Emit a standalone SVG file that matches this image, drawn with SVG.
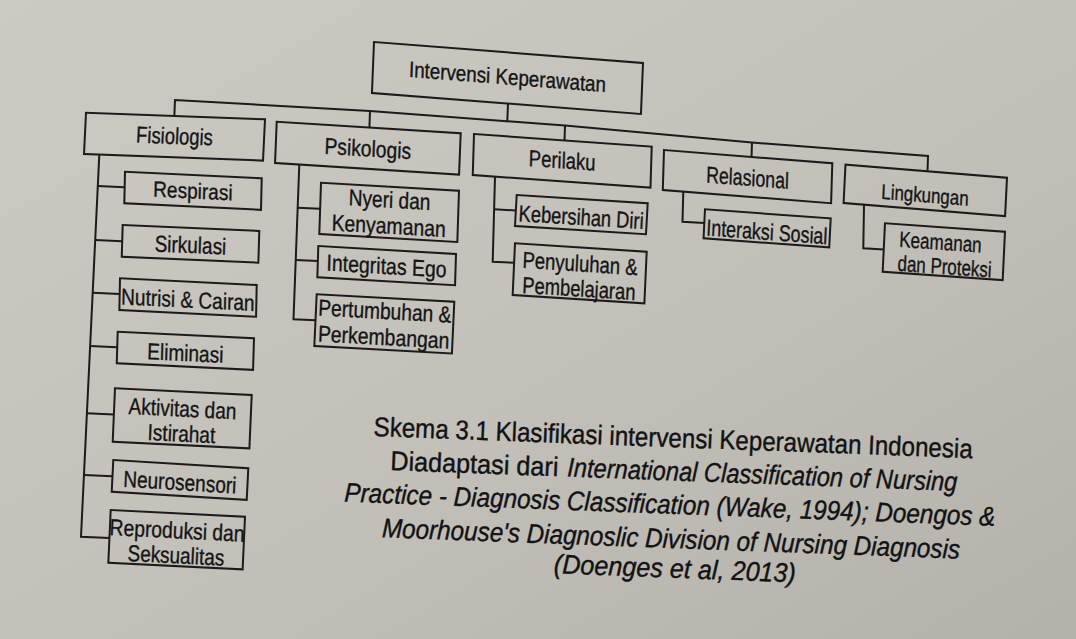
<svg xmlns="http://www.w3.org/2000/svg" width="1076" height="639" viewBox="0 0 1076 639">
  <defs>
    <linearGradient id="paper" x1="0" y1="0" x2="1" y2="1">
      <stop offset="0" stop-color="#cdcac4"/>
      <stop offset="0.55" stop-color="#c3c0ba"/>
      <stop offset="1" stop-color="#b4b1ab"/>
    </linearGradient>
  </defs>
  <style>
    .box { fill: none; stroke: #1b1b1b; stroke-width: 2; }
    .wire { fill: none; stroke: #1b1b1b; stroke-width: 2; stroke-linejoin: miter; }
    .lbl { font-family: "Liberation Sans", Arial, sans-serif; font-size: 23px; fill: #141414; stroke: #141414; stroke-width: 0.35; text-anchor: middle; }
    .cap { font-family: "Liberation Sans", Arial, sans-serif; font-size: 27px; fill: #121212; stroke: #121212; stroke-width: 0.4; }
    .it { font-style: italic; }
  </style>

  <!-- paper -->
  <rect x="0" y="0" width="1076" height="639" fill="url(#paper)"/>

  <!-- connectors: main bus and branch trunks -->
  <g id="connectors">
    <path class="wire" d="M174.3,116.5 L175,100 L370,111 L565,125.5 L752,142.5 L928,156 L927.5,171.5"/>
    <path class="wire" d="M370,111 L369.4,127.6"/>
    <path class="wire" d="M508,103.6 L507.3,121.3"/>
    <path class="wire" d="M565,125.5 L564.5,140.5"/>
    <path class="wire" d="M752,142.5 L751.5,156.9"/>

    <!-- Fisiologis branch -->
    <path class="wire" d="M99.3,154.6 L81,536.7 L109.5,538"/>
    <path class="wire" d="M97.8,186 L124.7,187.2"/>
    <path class="wire" d="M95.2,240 L122.2,241.2"/>
    <path class="wire" d="M92.7,292.7 L119.7,293.9"/>
    <path class="wire" d="M90.1,346 L117.2,347.2"/>
    <path class="wire" d="M86.9,413.3 L113.9,414.5"/>
    <path class="wire" d="M83.9,475 L112.5,476.3"/>

    <!-- Psikologis branch -->
    <path class="wire" d="M299.3,164.5 L293.5,319.3 L315.5,320.3"/>
    <path class="wire" d="M297.7,207.7 L320.1,208.7"/>
    <path class="wire" d="M295.8,260 L317.9,261"/>

    <!-- Perilaku branch -->
    <path class="wire" d="M495,176.6 L492.7,261.7 L514.1,262.7"/>
    <path class="wire" d="M494.2,209.3 L515.9,210.5"/>

    <!-- Relasional branch -->
    <path class="wire" d="M683.3,191.6 L682.5,221.7 L704.3,223"/>

    <!-- Lingkungan branch -->
    <path class="wire" d="M864,205 L863.3,248.3 L883.8,249.5"/>
  </g>

  <!-- root -->
  <g id="node-intervensi" transform="matrix(1,0.078,-0.04,1,374,42)">
    <rect class="box" width="269" height="51"/>
    <text class="lbl" x="134.5" y="32" style="font-size:22px" textLength="197" lengthAdjust="spacingAndGlyphs">Intervensi Keperawatan</text>
  </g>

  <!-- first level -->
  <g id="node-fisiologis" transform="matrix(1,0.037,-0.048,1,86,112.7)">
    <rect class="box" width="179" height="41.3"/>
    <text class="lbl" x="89.5" y="28" textLength="76.7" lengthAdjust="spacingAndGlyphs">Fisiologis</text>
  </g>
  <g id="node-psikologis" transform="matrix(1,0.063,-0.04,1,276.7,121.7)">
    <rect class="box" width="184" height="41.3"/>
    <text class="lbl" x="92" y="29" textLength="86.7" lengthAdjust="spacingAndGlyphs">Psikologis</text>
  </g>
  <g id="node-perilaku" transform="matrix(1,0.071,-0.03,1,474,134)">
    <rect class="box" width="177.7" height="41"/>
    <text class="lbl" x="88.8" y="28" textLength="66.7" lengthAdjust="spacingAndGlyphs">Perilaku</text>
  </g>
  <g id="node-relasional" transform="matrix(1,0.079,-0.03,1,664,150)">
    <rect class="box" width="168.3" height="40"/>
    <text class="lbl" x="84.2" y="29" textLength="82.7" lengthAdjust="spacingAndGlyphs">Relasional</text>
  </g>
  <g id="node-lingkungan" transform="matrix(1,0.081,-0.05,1,845.5,164.7)">
    <rect class="box" width="161.5" height="38.3"/>
    <text class="lbl" x="80.7" y="31" style="font-size:21px" textLength="87.3" lengthAdjust="spacingAndGlyphs">Lingkungan</text>
  </g>

  <!-- Fisiologis children -->
  <g id="node-respirasi" transform="matrix(1,0.048,-0.022,1,125,171.7)">
    <rect class="box" width="136.7" height="31.6"/>
    <text class="lbl" x="68.3" y="23.5" style="font-size:22px" textLength="79.3" lengthAdjust="spacingAndGlyphs">Respirasi</text>
  </g>
  <g id="node-sirkulasi" transform="matrix(1,0.044,-0.03,1,122.7,225)">
    <rect class="box" width="136.6" height="31.7"/>
    <text class="lbl" x="68.3" y="25" textLength="71.7" lengthAdjust="spacingAndGlyphs">Sirkulasi</text>
  </g>
  <g id="node-nutrisi" transform="matrix(1,0.049,-0.02,1,120,278.3)">
    <rect class="box" width="136.7" height="31.7"/>
    <text class="lbl" x="68.3" y="26" textLength="133.3" lengthAdjust="spacingAndGlyphs">Nutrisi &amp; Cairan</text>
  </g>
  <g id="node-eliminasi" transform="matrix(1,0.048,-0.03,1,117.7,331.7)">
    <rect class="box" width="136.3" height="31.6"/>
    <text class="lbl" x="68.2" y="26" textLength="76" lengthAdjust="spacingAndGlyphs">Eliminasi</text>
  </g>
  <g id="node-aktivitas" transform="matrix(1,0.049,-0.043,1,115,388.3)">
    <rect class="box" width="136.7" height="53.4"/>
    <text class="lbl" x="68.3" y="25" textLength="107.7" lengthAdjust="spacingAndGlyphs">Aktivitas dan</text>
    <text class="lbl" x="68.3" y="50" textLength="67.7" lengthAdjust="spacingAndGlyphs">Istirahat</text>
  </g>
  <g id="node-neurosensori" transform="matrix(1,0.061,-0.05,1,113.3,460)">
    <rect class="box" width="135" height="31.7"/>
    <text class="lbl" x="67.5" y="26" textLength="113" lengthAdjust="spacingAndGlyphs">Neurosensori</text>
  </g>
  <g id="node-reproduksi" transform="matrix(1,0.05,-0.045,1,110.7,510)">
    <rect class="box" width="134.3" height="52.7"/>
    <text class="lbl" x="67.2" y="25" textLength="135" lengthAdjust="spacingAndGlyphs">Reproduksi dan</text>
    <text class="lbl" x="67.2" y="50" textLength="96.7" lengthAdjust="spacingAndGlyphs">Seksualitas</text>
  </g>

  <!-- Psikologis children -->
  <g id="node-nyeri" transform="matrix(1,0.058,-0.033,1,321,182.7)">
    <rect class="box" width="138" height="51.3"/>
    <text class="lbl" x="69" y="21" textLength="81.7" lengthAdjust="spacingAndGlyphs">Nyeri dan</text>
    <text class="lbl" x="69" y="47" textLength="114" lengthAdjust="spacingAndGlyphs">Kenyamanan</text>
  </g>
  <g id="node-integritas" transform="matrix(1,0.058,-0.03,1,318.3,246)">
    <rect class="box" width="137.7" height="31.3"/>
    <text class="lbl" x="68.8" y="24" textLength="120" lengthAdjust="spacingAndGlyphs">Integritas Ego</text>
  </g>
  <g id="node-pertumbuhan" transform="matrix(1,0.054,-0.046,1,316.7,294.3)">
    <rect class="box" width="137.6" height="51.7"/>
    <text class="lbl" x="68.8" y="21" textLength="133" lengthAdjust="spacingAndGlyphs">Pertumbuhan &amp;</text>
    <text class="lbl" x="68.8" y="47" textLength="131.3" lengthAdjust="spacingAndGlyphs">Perkembangan</text>
  </g>

  <!-- Perilaku children -->
  <g id="node-kebersihan" transform="matrix(1,0.063,-0.055,1,516.7,195)">
    <rect class="box" width="131" height="31"/>
    <text class="lbl" x="65.5" y="26" textLength="125" lengthAdjust="spacingAndGlyphs">Kebersihan Diri</text>
  </g>
  <g id="node-penyuluhan" transform="matrix(1,0.064,-0.045,1,515,243.3)">
    <rect class="box" width="131.7" height="51.7"/>
    <text class="lbl" x="65.8" y="24" textLength="115" lengthAdjust="spacingAndGlyphs">Penyuluhan &amp;</text>
    <text class="lbl" x="65.8" y="49" textLength="113" lengthAdjust="spacingAndGlyphs">Pembelajaran</text>
  </g>

  <!-- Relasional child -->
  <g id="node-interaksi" transform="matrix(1,0.072,-0.05,1,705,209.3)">
    <rect class="box" width="125.7" height="29"/>
    <text class="lbl" x="62.8" y="26" textLength="121" lengthAdjust="spacingAndGlyphs">Interaksi Sosial</text>
  </g>

  <!-- Lingkungan child -->
  <g id="node-keamanan" transform="matrix(1,0.07,-0.048,1,885,223.3)">
    <rect class="box" width="120" height="48.4"/>
    <text class="lbl" x="15.1" y="22.5" style="text-anchor:start;font-size:22px" textLength="82.3" lengthAdjust="spacingAndGlyphs">Keamanan</text>
    <text class="lbl" x="14.5" y="46.5" style="text-anchor:start;font-size:22px" textLength="94" lengthAdjust="spacingAndGlyphs">dan Proteksi</text>
  </g>

  <!-- caption -->
  <g id="caption">
    <text class="cap" transform="matrix(1,0.037,-0.045,1,373.3,436)" textLength="599" lengthAdjust="spacingAndGlyphs">Skema 3.1 Klasifikasi intervensi Keperawatan Indonesia</text>
    <g transform="matrix(1,0.037,-0.045,1,390,470)">
      <text class="cap" x="0" y="0" textLength="168" lengthAdjust="spacingAndGlyphs">Diadaptasi dari</text>
      <text class="cap it" x="177" y="0" textLength="390" lengthAdjust="spacingAndGlyphs">International Classification of Nursing</text>
    </g>
    <text class="cap it" transform="matrix(1,0.037,-0.045,1,344,501.7)" textLength="651" lengthAdjust="spacingAndGlyphs">Practice - Diagnosis Classification (Wake, 1994); Doengos &amp;</text>
    <text class="cap it" transform="matrix(1,0.037,-0.045,1,381.7,537.3)" textLength="578" lengthAdjust="spacingAndGlyphs">Moorhouse's Diagnoslic Division of Nursing Diagnosis</text>
    <text class="cap it" transform="matrix(1,0.037,-0.045,1,553.5,573.3)" textLength="242" lengthAdjust="spacingAndGlyphs">(Doenges et al, 2013)</text>
  </g>
</svg>
